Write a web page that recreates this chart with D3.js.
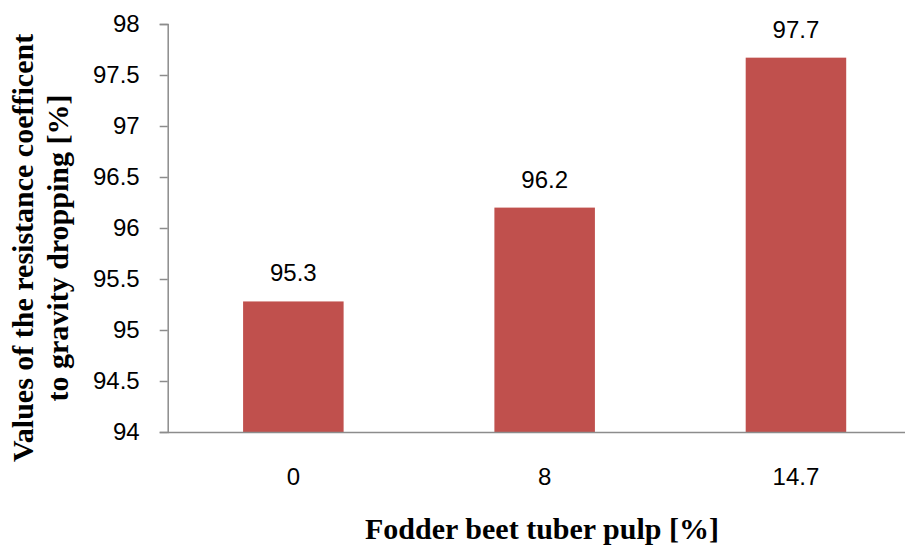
<!DOCTYPE html>
<html>
<head>
<meta charset="utf-8">
<script src="https://cdn.jsdelivr.net/npm/d3@7"></script>
<style>
  html, body { margin: 0; padding: 0; background: #fff; }
  svg { display: block; }
</style>
</head>
<body>
<svg id="chart" width="905" height="545"></svg>
<script>
const categories = ["0", "8", "14.7"];
const values = [95.28, 96.2, 97.67];
const yTicks = [94, 94.5, 95, 95.5, 96, 96.5, 97, 97.5, 98];
const xTitle = "Fodder beet tuber pulp [%]";
const yTitleLines = ["Values of the resistance coefficent", "to gravity dropping [%]"];

const svg = d3.select("#chart");
const axisColor = "#8c8c8c";
const barColor = "#C0504D";
const tickFont = "'Liberation Sans', Arial, sans-serif";
const titleFont = "'Liberation Serif', 'Times New Roman', serif";

const y = d3.scaleLinear().domain([94, 98]).range([432, 24]);
const x = d3.scaleBand().domain(categories).range([167.7, 921.6]).paddingInner(0.6).paddingOuter(0.3);

// bars
svg.append("g").selectAll("rect").data(values).join("rect")
  .attr("x", (d, i) => x(categories[i]))
  .attr("width", x.bandwidth())
  .attr("y", d => y(d))
  .attr("height", d => y(94) - y(d))
  .attr("fill", barColor);

// y axis
const yAxis = svg.append("g").attr("transform", "translate(167.7,0)")
  .call(d3.axisLeft(y).tickValues(yTicks).tickSize(8).tickPadding(20).tickFormat(d3.format("")));
yAxis.select(".domain").attr("stroke", axisColor).attr("stroke-width", 1.5);
yAxis.selectAll(".tick line").attr("stroke", axisColor).attr("stroke-width", 1.5);
yAxis.selectAll(".tick text").attr("font-family", tickFont).attr("font-size", 24).attr("fill", "#000");

// x axis
const xAxis = svg.append("g").attr("transform", "translate(0,432)")
  .call(d3.axisBottom(x).tickSize(0).tickPadding(36));
xAxis.select(".domain").attr("stroke", axisColor).attr("stroke-width", 1.5);
xAxis.selectAll(".tick text").attr("font-family", tickFont).attr("font-size", 24).attr("fill", "#000");

// data labels
svg.append("g").selectAll("text").data(values).join("text")
  .attr("x", (d, i) => x(categories[i]) + x.bandwidth() / 2)
  .attr("y", d => y(d) - 20)
  .attr("text-anchor", "middle")
  .attr("font-family", tickFont).attr("font-size", 24).attr("fill", "#000")
  .text(d => d3.format(".1f")(d));

// x title
svg.append("text")
  .attr("x", 542).attr("y", 539)
  .attr("text-anchor", "middle")
  .attr("font-family", titleFont).attr("font-size", 30).attr("font-weight", "bold")
  .text(xTitle);

// y title
const yT = svg.append("g");
yTitleLines.forEach((line, i) => {
  yT.append("text")
    .attr("transform", `translate(${33 + i * 35},248) rotate(-90)`)
    .attr("text-anchor", "middle")
    .attr("font-family", titleFont).attr("font-size", 30).attr("font-weight", "bold")
    .text(line);
});
</script>
</body>
</html>
